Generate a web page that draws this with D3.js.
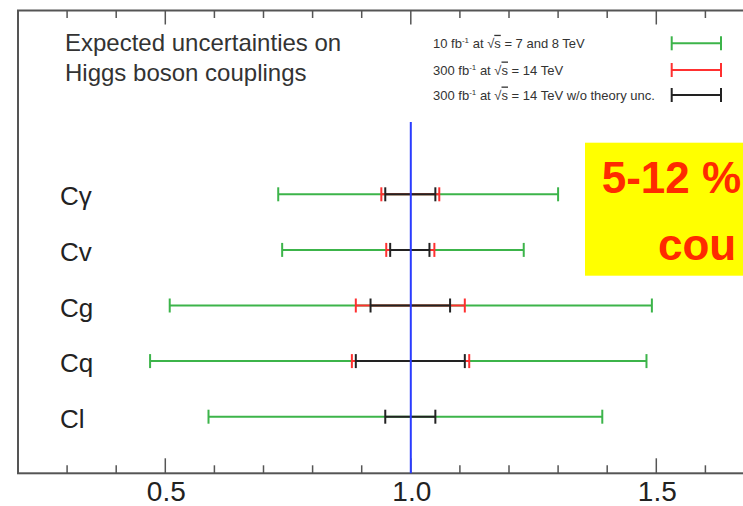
<!DOCTYPE html>
<html>
<head>
<meta charset="utf-8">
<script src="https://cdn.jsdelivr.net/npm/d3@7"></script>
<style>
  body { margin: 0; background: #fff; overflow: hidden; }
  svg { display: block; font-family: "Liberation Sans", Arial, sans-serif; }
</style>
</head>
<body>
<div id="chart"></div>
<script>
// couplings, top to bottom
var couplings = ["Cγ", "Cv", "Cg", "Cq", "Cl"]

// 10 fb-1 at 7 and 8 TeV (green)
var lowGreen  = [0.73, 0.738, 0.509, 0.469, 0.588]
var highGreen = [1.30, 1.23, 1.491, 1.48, 1.39]
// 300 fb-1 at 14 TeV (red)
var lowRed  = [0.94, 0.95, 0.888, 0.88, null]
var highRed = [1.058, 1.048, 1.11, 1.119, null]
// 300 fb-1 at 14 TeV w/o theory unc. (black)
var lowBlack  = [0.948, 0.958, 0.918, 0.888, 0.948]
var highBlack = [1.05, 1.038, 1.08, 1.11, 1.05]

var majorTicks = [0.5, 1.0, 1.5]
var minorTicks = [0.3, 0.4, 0.6, 0.7, 0.8, 0.9, 1.1, 1.2, 1.3, 1.4, 1.6, 1.7]

var legendLabels = ["10 fb", "300 fb", "300 fb"]
var legendTails = [" = 7 and 8 TeV", " = 14 TeV", " = 14 TeV w/o theory unc."]

// callout text, as far as it shows in the picture
var calloutLines = ["5-12 %", "cou"]

const W = 743, H = 506
const frame = {left: 18, top: 10.5, bottom: 473.3}

var svg = d3.select("#chart").append("svg")
  .attr("width", W)
  .attr("height", H)

var x = d3.scaleLinear()
  .domain([0.2, 1.8])
  .range([frame.left, frame.left + 1.6 * 491])

var y = d3.scalePoint()
  .domain(couplings)
  .range([194.3, 416.7])

// frame
svg.append("rect")
  .attr("x", frame.left)
  .attr("y", frame.top)
  .attr("width", 900)
  .attr("height", frame.bottom - frame.top)
  .attr("fill", "none")
  .attr("stroke", "#555")
  .attr("stroke-width", 2)

// bottom axis ticks (pointing up, into the frame)
var bottomAxis = svg.append("g").attr("transform", "translate(0," + frame.bottom + ")")
bottomAxis.selectAll(".major").data(majorTicks).enter().append("line")
  .attr("x1", d => x(d)).attr("x2", d => x(d))
  .attr("y1", 0).attr("y2", -15)
  .attr("stroke", "#555").attr("stroke-width", 1.5)
bottomAxis.selectAll(".minor").data(minorTicks).enter().append("line")
  .attr("x1", d => x(d)).attr("x2", d => x(d))
  .attr("y1", 0).attr("y2", -8)
  .attr("stroke", "#555").attr("stroke-width", 1.5)
bottomAxis.selectAll("text").data(majorTicks).enter().append("text")
  .attr("x", d => x(d) + 1)
  .attr("y", 28)
  .attr("text-anchor", "middle")
  .attr("font-size", 28)
  .attr("fill", "#222")
  .text(d => d3.format(".1f")(d))

// top axis ticks (pointing down)
var topAxis = svg.append("g").attr("transform", "translate(0," + frame.top + ")")
topAxis.selectAll(".major").data(majorTicks).enter().append("line")
  .attr("x1", d => x(d)).attr("x2", d => x(d))
  .attr("y1", 0).attr("y2", 14)
  .attr("stroke", "#555").attr("stroke-width", 1.5)
topAxis.selectAll(".minor").data(minorTicks).enter().append("line")
  .attr("x1", d => x(d)).attr("x2", d => x(d))
  .attr("y1", 0).attr("y2", 7.5)
  .attr("stroke", "#555").attr("stroke-width", 1.5)

// title
svg.append("text").attr("x", 65).attr("y", 51.3)
  .attr("font-size", 24).attr("fill", "#333")
  .text("Expected uncertainties on")
svg.append("text").attr("x", 65).attr("y", 81.3)
  .attr("font-size", 24).attr("fill", "#333")
  .text("Higgs boson couplings")

// legend
var legendColors = ["#3cb44a", "#ff3030", "#222"]
var legendY = [43.3, 70, 95]
legendLabels.forEach(function(lab, i) {
  var t = svg.append("text")
    .attr("x", 433).attr("y", legendY[i] + 4.5)
    .attr("font-size", 13).attr("fill", "#333")
  t.append("tspan").text(lab)
  t.append("tspan").attr("font-size", 8).attr("dy", -5).text("-1")
  t.append("tspan").attr("dy", 5).text(" at  ")
  t.append("tspan").text("√")
  t.append("tspan").attr("text-decoration", "overline").text("s")
  t.append("tspan").text(legendTails[i])

  var g = svg.append("g").attr("stroke", legendColors[i]).attr("stroke-width", 2)
  g.append("line").attr("x1", 671.7).attr("x2", 721).attr("y1", legendY[i]).attr("y2", legendY[i])
  g.append("line").attr("x1", 671.7).attr("x2", 671.7).attr("y1", legendY[i] - 7).attr("y2", legendY[i] + 7)
  g.append("line").attr("x1", 721).attr("x2", 721).attr("y1", legendY[i] - 7).attr("y2", legendY[i] + 7)
})

// row labels
svg.selectAll(".lab").data(couplings).enter().append("text")
  .attr("x", 60)
  .attr("y", d => y(d) + 11)
  .attr("font-size", 26)
  .attr("fill", "#222")
  .text(d => d)

// error bars
function drawBars(lows, highs, color) {
  var g = svg.append("g").attr("stroke", color).attr("stroke-width", 2)
  couplings.forEach(function(c, i) {
    if (lows[i] == null) return
    var yy = y(c)
    g.append("line").attr("x1", x(lows[i])).attr("x2", x(highs[i])).attr("y1", yy).attr("y2", yy)
    g.append("line").attr("x1", x(lows[i])).attr("x2", x(lows[i])).attr("y1", yy - 7).attr("y2", yy + 7)
    g.append("line").attr("x1", x(highs[i])).attr("x2", x(highs[i])).attr("y1", yy - 7).attr("y2", yy + 7)
  })
}
drawBars(lowGreen, highGreen, "#3cb44a")
drawBars(lowRed, highRed, "#ff3030")
drawBars(lowBlack, highBlack, "#222")

// SM line at 1
svg.append("line")
  .attr("x1", x(1)).attr("x2", x(1))
  .attr("y1", 122).attr("y2", frame.bottom)
  .attr("stroke", "#2a3cff").attr("stroke-width", 2)

// yellow callout (runs off the right edge)
svg.append("rect")
  .attr("x", 585).attr("y", 142.7)
  .attr("width", 300).attr("height", 133)
  .attr("fill", "#ffff00")
svg.append("text").attr("x", 601.7).attr("y", 193.3)
  .attr("font-size", 44).attr("font-weight", "bold").attr("fill", "#ff2a00")
  .text(calloutLines[0])
svg.append("text").attr("x", 658).attr("y", 260)
  .attr("font-size", 44).attr("font-weight", "bold").attr("fill", "#ff2a00")
  .text(calloutLines[1])
</script>
</body>
</html>
